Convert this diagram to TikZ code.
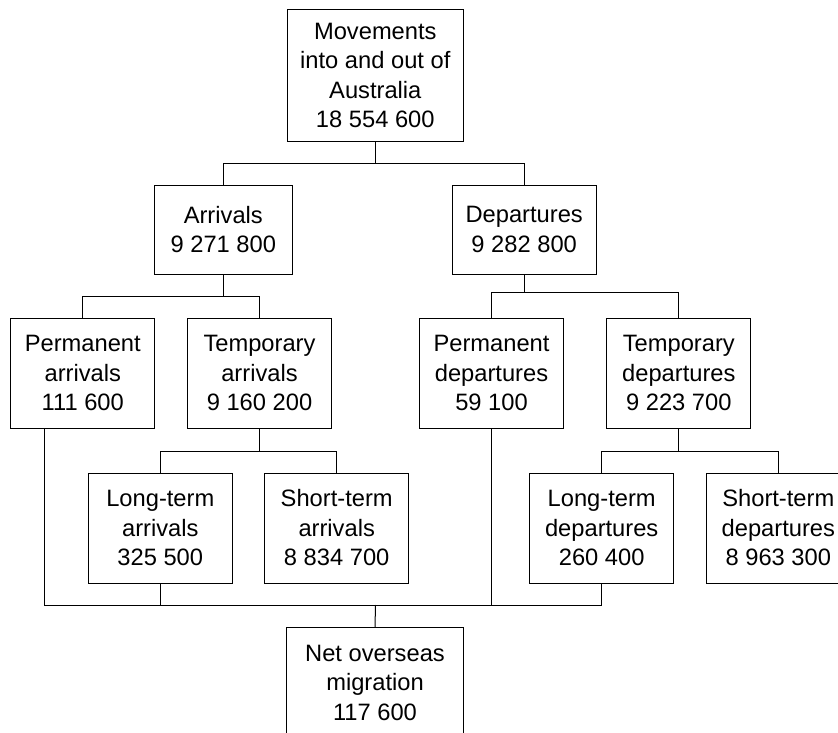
\documentclass[tikz,border=0pt]{standalone}
\usepackage{fontspec}
\setmainfont{Liberation Sans}
\begin{document}
\begin{tikzpicture}[x=1pt,y=-1pt,
  box/.style={draw, line width=1pt, inner sep=0pt, align=center,
    font=\fontsize{23.7}{29.5}\selectfont,
    minimum width=144pt, minimum height=110pt},
  wide/.style={minimum width=176pt, minimum height=132pt},
  low/.style={minimum height=88.7pt},
  link/.style={line width=1pt}]
\path[use as bounding box, clip] (0,0) rectangle (838,733);

% level 0
\node[box, wide] (top) at (375.3,75.3) {Movements\\into and out of\\Australia\\18 554 600};
% level 1
\node[box, low, minimum width=138pt] (arr) at (223.3,229.7) {Arrivals\\9 271 800};
\node[box, low] (dep) at (524.2,229.7) {Departures\\9 282 800};
% level 2
\node[box] (parr) at (82.8,373.3) {Permanent\\arrivals\\111 600};
\node[box] (tarr) at (259.5,373.3) {Temporary\\arrivals\\9 160 200};
\node[box] (pdep) at (491.5,373.3) {Permanent\\departures\\59 100};
\node[box] (tdep) at (678.8,373.3) {Temporary\\departures\\9 223 700};
% level 3
\node[box] (ltarr) at (160.3,528) {Long-term\\arrivals\\325 500};
\node[box] (starr) at (336.7,528) {Short-term\\arrivals\\8 834 700};
\node[box] (ltdep) at (601.7,528) {Long-term\\departures\\260 400};
\node[box] (stdep) at (778.3,528) {Short-term\\departures\\8 963 300};
% result
\node[box, minimum width=176.6pt] (net) at (375,682.7) {Net overseas\\migration\\117 600};

% splits
\draw[link] (top.south) -- ++(0,21.7) coordinate (j0);
\draw[link] (arr.north) |- (j0) -| (dep.north);
\draw[link] (arr.south) -- ++(0,22) coordinate (j1);
\draw[link] (parr.north) |- (j1) -| (tarr.north);
\draw[link] (dep.south) -- ++(0,18) coordinate (j2);
\draw[link] (pdep.north) |- (j2) -| (tdep.north);
\draw[link] (tarr.south) -- ++(0,22.4) coordinate (j3);
\draw[link] (ltarr.north) |- (j3) -| (starr.north);
\draw[link] (tdep.south) -- ++(0,22.4) coordinate (j4);
\draw[link] (ltdep.north) |- (j4) -| (stdep.north);

% merge into net overseas migration
\coordinate (m) at (375.5,605);
\draw[link] ([xshift=-38.5pt]parr.south) |- (m);
\draw[link] (ltarr.south) |- (m);
\draw[link] (ltdep.south) |- (m);
\draw[link] (pdep.south) |- (m);
\draw[link] (m) -- (net.north);
\end{tikzpicture}
\end{document}
